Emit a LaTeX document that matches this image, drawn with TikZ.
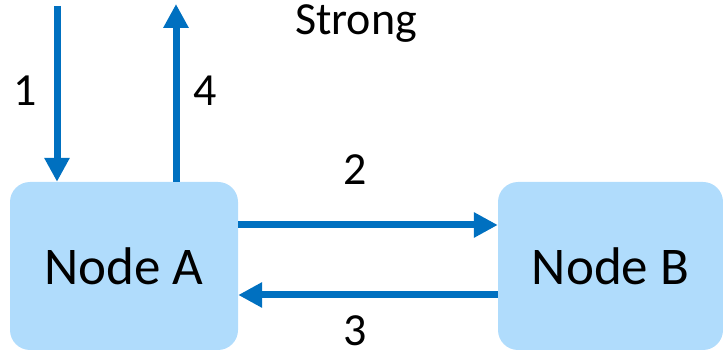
\documentclass[tikz,border=0pt]{standalone}
\usepackage{fontspec}
\setmainfont{Carlito}
\usetikzlibrary{arrows.meta}
\definecolor{boxfill}{HTML}{B0DCFC}
\definecolor{arrowblue}{HTML}{0070C0}
\begin{document}
\begin{tikzpicture}[x=1pt,y=-1pt,
  nodebox/.style={fill=boxfill,rounded corners=20pt,minimum width=228pt,minimum height=168pt,inner sep=0pt,font=\fontsize{53}{63}\selectfont},
  conn/.style={draw=arrowblue,line width=7pt,-{Triangle[length=24pt,width=24pt]}},
  lbl/.style={font=\fontsize{46}{55}\selectfont,inner sep=0pt}]
\useasboundingbox (0,0) rectangle (723,355);
\node[nodebox] (A) at (124,266) {Node A};
\node[nodebox,minimum width=225pt] (B) at (610.5,266) {Node B};
\coordinate (in1) at (57,6);
\coordinate (out4) at (176,4);
\draw[conn] (in1) -- (in1 |- A.north);
\draw[conn] (out4 |- A.north) -- (out4);
\draw[conn] ([yshift=41pt]A.east) -- ([yshift=41pt]B.west);
\draw[conn] ([yshift=-29pt]B.west) -- ([yshift=-29pt]A.east);
\node[lbl] (l1) at (25,91) {1};
\node[lbl] (l4) at (205,91) {4};
\node[lbl] (ls) at (356,24) {Strong};
\node[lbl] (l2) at (355,170) {2};
\node[lbl] (l3) at (355,331) {3};
\end{tikzpicture}
\end{document}
